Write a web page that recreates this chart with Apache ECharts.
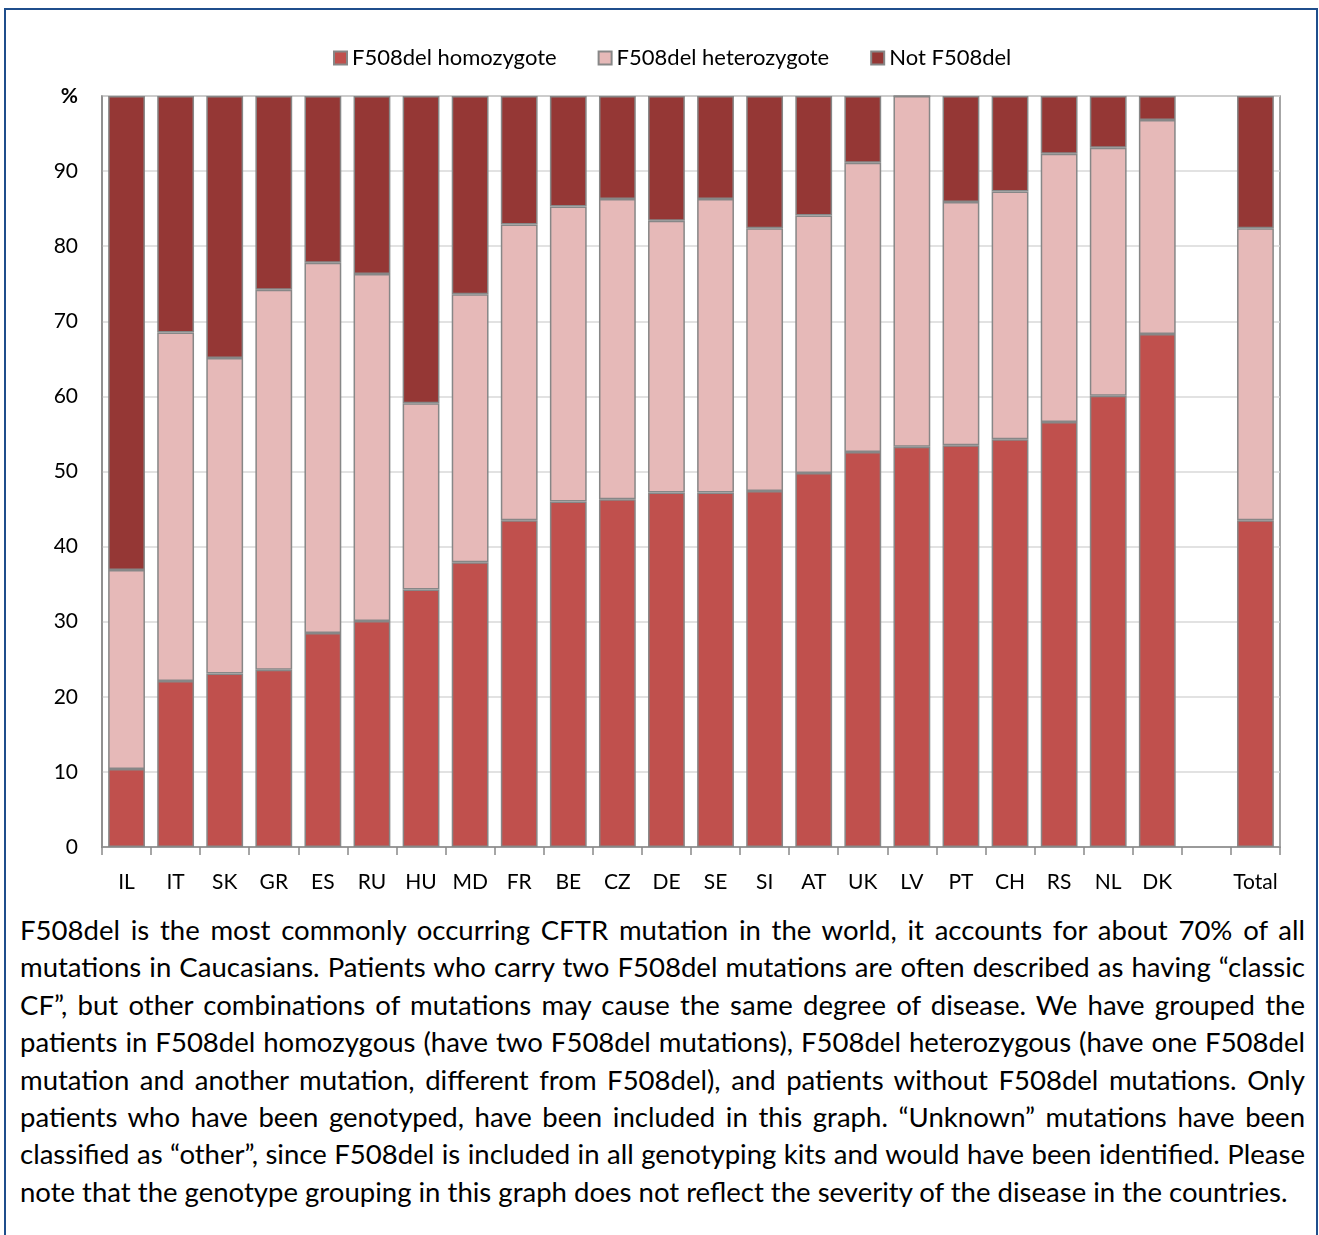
<!DOCTYPE html>
<html>
<head>
<meta charset="utf-8">
<script src="https://cdn.jsdelivr.net/npm/echarts@6/dist/echarts.min.js"></script>
<style>
  html, body { margin: 0; padding: 0; background: #ffffff; }
  #wrap { position: relative; width: 1319px; height: 1235px; overflow: hidden; }
  #frame { position: absolute; left: 4px; top: 8px; width: 1314px; height: 1300px; border: 2px solid #1F4E8C; box-sizing: border-box; }
  #chart { position: absolute; left: 0; top: 0; width: 1319px; height: 900px; }
  #para { position: absolute; left: 20px; top: 911px; width: 1285px; font-family: Lato, 'Open Sans', sans-serif; color: #000; }
  #para div { line-height: 37.4px; height: 37.4px; text-align: justify; text-align-last: justify; white-space: normal; }
  #para div.last { text-align: left; text-align-last: left; }
</style>
</head>
<body>
<div id="wrap">
  <div id="frame"></div>
  <div id="chart"></div>
  <div id="para"></div>
</div>
<script>
const categories = ['IL','IT','SK','GR','ES','RU','HU','MD','FR','BE','CZ','DE','SE','SI','AT','UK','LV','PT','CH','RS','NL','DK','','Total'];
const homozygote   = [10.4,22.1,23.1,23.6,28.5,30.1,34.3,37.9,43.5,46.0,46.3,47.2,47.2,47.4,49.8,52.6,53.3,53.5,54.3,56.6,60.1,68.3,null,43.5];
const heterozygote = [26.5,46.4,42.0,50.6,49.3,46.2,24.8,35.7,39.4,39.3,40.0,36.2,39.1,35.0,34.3,38.5,46.7,32.4,33.0,35.7,33.0,28.5,null,38.9];
const notF508del   = [63.1,31.5,34.9,25.8,22.2,23.7,40.9,26.4,17.1,14.7,13.7,16.6,13.7,17.6,15.9,8.9,0,14.1,12.7,7.7,6.9,3.2,null,17.6];
const seriesNames = ['F508del homozygote','F508del heterozygote','Not F508del'];
const yTickTop = '%';
const paragraphLines = [
  'F508del is the most commonly occurring CFTR mutation in the world, it accounts for about 70% of all',
  'mutations in Caucasians. Patients who carry two F508del mutations are often described as having \u201Cclassic',
  'CF\u201D, but other combinations of mutations may cause the same degree of disease. We have grouped the',
  'patients in F508del homozygous (have two F508del mutations), F508del heterozygous (have one F508del',
  'mutation and another mutation, different from F508del), and patients without F508del mutations. Only',
  'patients who have been genotyped, have been included in this graph. \u201CUnknown\u201D mutations have been',
  'classified as \u201Cother\u201D, since F508del is included in all genotyping kits and would have been identified. Please',
  'note that the genotype grouping in this graph does not reflect the severity of the disease in the countries.'
];

const FONT = 'Lato';
const colors = ['#C0504D', '#E6B9B8', '#953735'];
const chart = echarts.init(document.getElementById('chart'));
const mk = (name, data, color) => ({
  name: name, type: 'bar', stack: 'total', data: data,
  barCategoryGap: '25%',
  itemStyle: { color: color, borderColor: '#878787', borderWidth: 1.5 },
  emphasis: { disabled: true }
});
chart.setOption({
  animation: false,
  textStyle: { fontFamily: FONT },
  legend: {
    top: 42, left: 328,
    icon: 'rect', itemWidth: 13, itemHeight: 13, itemGap: 41,
    textStyle: { fontFamily: FONT, fontSize: 22, color: '#000' },
    data: seriesNames
  },
  grid: { left: 102, right: 39, top: 96, bottom: 53, show: true, borderColor: '#898989', borderWidth: 1.5, containLabel: false },
  xAxis: {
    type: 'category', data: categories,
    axisLine: { lineStyle: { color: '#898989', width: 1.5 } },
    axisTick: { show: true, length: 8, interval: 0, lineStyle: { color: '#898989', width: 1.5 } },
    axisLabel: { interval: 0, margin: 25, fontFamily: FONT, fontSize: 21, color: '#000' }
  },
  yAxis: {
    type: 'value', min: 0, max: 100, interval: 10,
    axisLine: { show: true, lineStyle: { color: '#898989', width: 1.5 } },
    axisTick: { show: false },
    splitLine: { lineStyle: { color: '#D9D9D9', width: 1.5 } },
    axisLabel: {
      margin: 24, fontFamily: FONT, fontSize: 21, color: '#000',
      formatter: v => v === 100 ? '{b|' + yTickTop + '}' : String(v),
      rich: { b: { fontWeight: 'bold', fontSize: 21, fontFamily: FONT, color: '#000' } }
    }
  },
  series: [
    mk(seriesNames[0], homozygote, colors[0]),
    mk(seriesNames[1], heterozygote, colors[1]),
    mk(seriesNames[2], notF508del, colors[2])
  ]
});

// paragraph
const para = document.getElementById('para');
paragraphLines.forEach((t, i) => {
  const d = document.createElement('div');
  d.textContent = t;
  if (i === paragraphLines.length - 1) d.className = 'last';
  para.appendChild(d);
});
// fit font size: last line spans ~1269px in the reference
const cv = document.createElement('canvas').getContext('2d');
cv.font = '100px ' + FONT;
const lastW = cv.measureText(paragraphLines[paragraphLines.length - 1]).width;
let size = 100 * 1269 / lastW;
let maxW = 0;
paragraphLines.forEach(t => { maxW = Math.max(maxW, cv.measureText(t).width); });
size = Math.min(size, 100 * 1280 / maxW);
para.style.fontSize = size.toFixed(2) + 'px';
</script>
</body>
</html>
